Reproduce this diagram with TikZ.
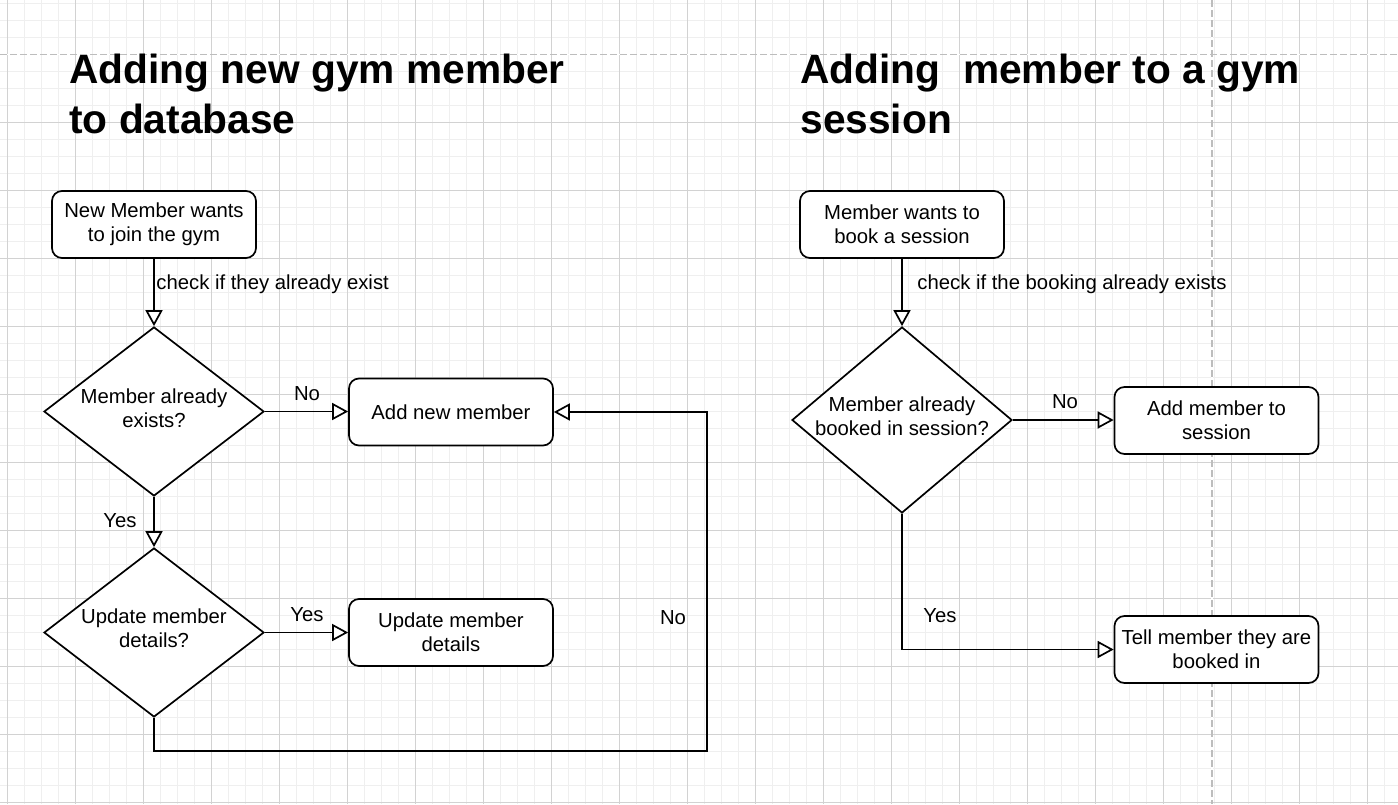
\documentclass[tikz,border=0pt]{standalone}
\usepackage{fontspec}
\setmainfont{Liberation Sans}
\usetikzlibrary{arrows.meta,shapes.geometric}

\definecolor{gridminor}{HTML}{EFEFEF}
\definecolor{gridmajor}{HTML}{D2D2D2}
\definecolor{pagebreak}{HTML}{BDBDBD}

\newcommand\flowfont{\fontsize{10.15pt}{12pt}\selectfont}
\newcommand\headfont{\fontsize{20.35pt}{25pt}\selectfont\bfseries}

\tikzset{
  stepbox/.style={draw=black, line width=0.85pt, rounded corners=5pt, fill=white,
    minimum width=102pt, minimum height=33.5pt, inner sep=0pt, align=center, font=\flowfont},
  decision/.style={diamond, draw=black, line width=0.85pt, fill=white,
    minimum width=110pt, minimum height=84.5pt, inner sep=0pt},
  dtext/.style={align=center, font=\flowfont, inner sep=0pt},
  flow/.style={draw=black, line width=0.85pt,
    -{Triangle[fill=white, length=8pt, width=8.5pt, line join=miter]}},
  elabel/.style={font=\flowfont, inner sep=0pt},
  heading/.style={font=\headfont, align=left, inner sep=0pt, anchor=north west},
}

\begin{document}
\begin{tikzpicture}[x=0.5pt, y=-0.5pt]
  \useasboundingbox (0,0) rectangle (1398,804);
  \fill[white] (0,0) rectangle (1398,804);

  % background grid: fine lines every 17 units, heavier ones every 68
  \begin{scope}[line width=0.5pt]
    \foreach \k in {0,...,81} \draw[gridminor] ({7+17*\k},0) -- ({7+17*\k},804);
    \foreach \k in {0,...,47} \draw[gridminor] (0,{3+17*\k}) -- (1398,{3+17*\k});
    \foreach \k in {0,...,20} \draw[gridmajor] ({7+68*\k},0) -- ({7+68*\k},804);
    \foreach \k in {1,...,11} \draw[gridmajor] (0,{54+68*\k}) -- (1398,{54+68*\k});
  \end{scope}

  % page break guides
  \draw[white, line width=0.65pt] (0,54.5) -- (1398,54.5);
  \draw[pagebreak, line width=0.65pt, dash pattern=on 3.5pt off 1.5pt] (0,54.5) -- (1398,54.5);
  \draw[white, line width=0.65pt] (1212,0) -- (1212,804);
  \draw[pagebreak, line width=0.65pt, dash pattern=on 3.5pt off 1.5pt] (1212,0) -- (1212,804);

  % headings
  \node[heading] (h1) at (69,54) {Adding new gym member\\to database};
  \node[heading] (h2) at (800,54) {Adding\ \ member to a gym\\session};

  % left flow: adding a new gym member
  \node[stepbox] (join) at (154,224.5) {New Member wants\\to join the gym};
  \node[decision] (exists) at (154,411.5) {};
  \node[dtext] (existst) at ([yshift=1.75pt]exists.center) {Member already\\exists?};
  \node[stepbox] (addnew) at (451,412) {Add new member};
  \node[decision] (update) at (154,632.5) {};
  \node[dtext] (updatet) at ([yshift=2pt]update.center) {Update member\\details?};
  \node[stepbox] (upddet) at (451,632.5) {Update member\\details};
  \coordinate (loopc) at (707,751);

  \draw[flow] (join.south) -- (exists.north);
  \draw[flow] (exists.east) -- (addnew.west |- exists.east);
  \draw[flow] (exists.south) -- (update.north);
  \draw[flow] (update.east) -- (upddet.west |- update.east);
  \draw[flow] (update.south) |- (loopc) |- (addnew.east);

  \node[elabel, anchor=west] (l1) at (156,284) {check if they already exist};
  \node[elabel] (l2) at (307,394) {No};
  \node[elabel] (l3) at (120,521) {Yes};
  \node[elabel] (l4) at (307,615) {Yes};
  \node[elabel] (l5) at (673,618) {No};

  % right flow: booking a member into a session
  \node[stepbox] (book) at (902,224.5) {Member wants to\\book a session};
  \node[decision, minimum height=93pt] (booked) at (902,420) {};
  \node[dtext] (bookedt) at ([yshift=1.75pt]booked.center) {Member already\\booked in session?};
  \node[stepbox] (addses) at (1216.5,420.5) {Add member to\\session};
  \node[stepbox] (tell) at (1216.5,649.5) {Tell member they are\\booked in};

  \draw[flow] (book.south) -- (booked.north);
  \draw[flow] (booked.east) -- (addses.west |- booked.east);
  \draw[flow] (booked.south) |- (tell.west);

  \node[elabel, anchor=west] (r1) at (917,284) {check if the booking already exists};
  \node[elabel] (r2) at (1065,402) {No};
  \node[elabel] (r3) at (940,616) {Yes};
\end{tikzpicture}
\end{document}
